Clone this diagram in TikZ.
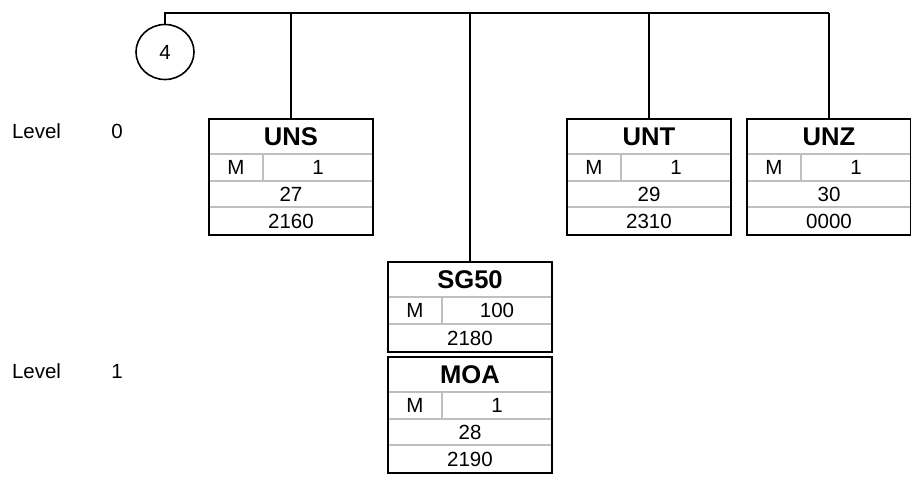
\documentclass[tikz,border=0pt]{standalone}
\usepackage{fontspec}
\setmainfont{Liberation Sans}
\usepackage{tikz}
\usetikzlibrary{positioning,shapes.geometric}

\begin{document}
\begin{tikzpicture}[
    x=0.5pt, y=-0.5pt,
    every node/.style={inner sep=0pt, outer sep=0pt, font=\fontsize{10.25}{12}\selectfont},
    titlecell/.style={minimum width=82pt, minimum height=17.5pt,
                      font=\fontsize{12.8}{15}\selectfont\bfseries},
    statcell/.style={minimum width=27pt, minimum height=13.5pt, anchor=north west},
    repcell/.style={minimum width=55pt, minimum height=13.5pt, anchor=north west},
    numcell/.style={minimum width=82pt, minimum height=13pt, anchor=north west},
    codecell/.style={minimum width=82pt, minimum height=14pt, anchor=north west},
    rowline/.style={draw=black!25, line width=1pt},
    frame/.style={draw, line width=1.4pt},
    bus/.style={line width=1.1pt}
]
\useasboundingbox (0,0) rectangle (911,477);

% level labels
\node[anchor=west] (lv0) at (12,131) {Level};
\node (lv0n) at (117,131) {0};
\node[anchor=west] (lv1) at (12,371) {Level};
\node (lv1n) at (117,371) {1};

% loop circle and bus
\coordinate (bus) at (165,13);
\node[draw, ellipse, line width=0.8pt, minimum width=29pt, minimum height=27.5pt] (loop) at (165,52) {4};
\draw[bus] (loop.north) -- (bus) -- (829,13);

% level 0 segments
\foreach \nm/\cx/\st/\rp/\no/\cd in {UNS/291/M/1/27/2160, UNT/649/M/1/29/2310, UNZ/829/M/1/30/0000} {
  \node[titlecell] (\nm) at (\cx,136.5) {\nm};
  \node[statcell] (\nm-st) at (\nm.south west) {\st};
  \node[repcell] (\nm-rp) at (\nm-st.north east) {\rp};
  \node[numcell] (\nm-no) at (\nm-st.south west) {\no};
  \node[codecell] (\nm-cd) at (\nm-no.south west) {\cd};
  \draw[rowline] (\nm.south west) -- (\nm.south east)
                 (\nm-st.south west) -- (\nm-rp.south east)
                 (\nm-no.south west) -- (\nm-no.south east)
                 (\nm-st.north east) -- (\nm-st.south east);
  \draw[frame] (\nm.north west) rectangle (\nm-cd.south east);
  \draw[bus] (\nm |- bus) -- (\nm.north);
}

% segment group 50
\node[titlecell] (SG50) at (470,279.5) {SG50};
\node[statcell] (SG50-st) at (SG50.south west) {M};
\node[repcell] (SG50-rp) at (SG50-st.north east) {100};
\node[codecell] (SG50-cd) at (SG50-st.south west) {2180};
\draw[rowline] (SG50.south west) -- (SG50.south east)
               (SG50-st.south west) -- (SG50-rp.south east)
               (SG50-st.north east) -- (SG50-st.south east);
\draw[frame] (SG50.north west) rectangle (SG50-cd.south east);
\draw[bus] (SG50 |- bus) -- (SG50.north);

% level 1 segment
\node[titlecell] (MOA) at (470,374.5) {MOA};
\node[statcell] (MOA-st) at (MOA.south west) {M};
\node[repcell] (MOA-rp) at (MOA-st.north east) {1};
\node[numcell] (MOA-no) at (MOA-st.south west) {28};
\node[codecell] (MOA-cd) at (MOA-no.south west) {2190};
\draw[rowline] (MOA.south west) -- (MOA.south east)
               (MOA-st.south west) -- (MOA-rp.south east)
               (MOA-no.south west) -- (MOA-no.south east)
               (MOA-st.north east) -- (MOA-st.south east);
\draw[frame] (MOA.north west) rectangle (MOA-cd.south east);
\end{tikzpicture}
\end{document}
